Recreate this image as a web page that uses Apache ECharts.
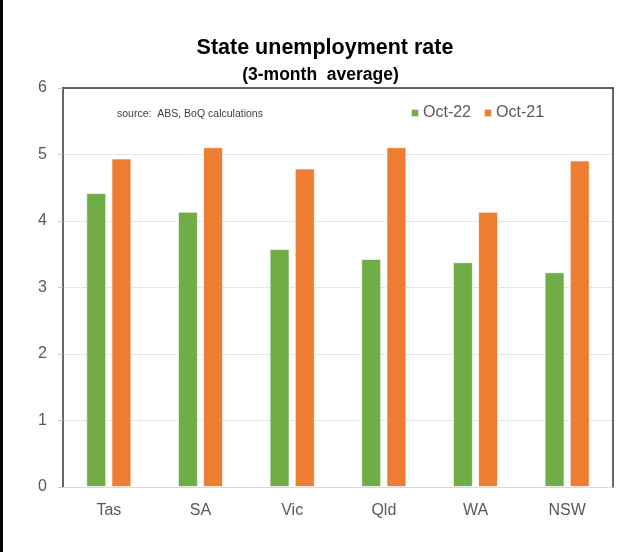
<!DOCTYPE html>
<html>
<head>
<meta charset="utf-8">
<script src="https://cdn.jsdelivr.net/npm/echarts@6/dist/echarts.min.js"></script>
<style>html,body{margin:0;padding:0;background:#fff;}#c{width:640px;height:552px;}</style>
</head>
<body>
<div id="c"></div>
<script>
const categories = ['Tas', 'SA', 'Vic', 'Qld', 'WA', 'NSW'];
const oct22 = [4.42, 4.14, 3.58, 3.43, 3.38, 3.23];
const oct21 = [4.94, 5.11, 4.79, 5.11, 4.14, 4.91];
const seriesNames = ['Oct-22', 'Oct-21'];
const yTicks = { min: 0, max: 6, interval: 1 };

const chart = echarts.init(document.getElementById('c'), null, { renderer: 'canvas' });
const labelFont = 'Liberation Sans, Arial, sans-serif';

chart.setOption({
  animation: false,
  backgroundColor: '#fff',
  graphic: [{
    type: 'rect', left: 0, top: 0, shape: { width: 3, height: 552 }, style: { fill: '#000' }
  }],
  title: [
    {
      text: 'State unemployment rate',
      left: 320, textAlign: 'center', top: 32,
      textStyle: { fontFamily: labelFont, fontWeight: 'bold', fontSize: 21.5, color: '#000' }
    },
    {
      text: '(3-month  average)',
      left: 315.5, textAlign: 'center', top: 61,
      textStyle: { fontFamily: labelFont, fontWeight: 'bold', fontSize: 17.5, color: '#000' }
    },
    {
      text: 'source:  ABS, BoQ calculations',
      left: 112, top: 104,
      textStyle: { fontFamily: labelFont, fontWeight: 'normal', fontSize: 10.5, color: '#404040' }
    }
  ],
  legend: {
    data: seriesNames,
    left: 405, top: 100,
    icon: 'rect', itemWidth: 8, itemHeight: 8, itemGap: 12,
    textStyle: { fontFamily: labelFont, fontSize: 16, color: '#595959', padding: [0, 0, 0, -1] }
  },
  grid: { left: 63, right: 27, top: 88, bottom: 65, containLabel: false },
  xAxis: [
    {
      type: 'category', data: categories,
      axisLine: { lineStyle: { color: '#d0d0d0', width: 1, type: 'dotted' } },
      axisTick: { show: false },
      axisLabel: { fontFamily: labelFont, fontSize: 16, color: '#595959', margin: 16 }
    },
    {
      type: 'category', data: categories, position: 'top',
      axisLine: { onZero: false, lineStyle: { color: '#333', width: 1.5 } },
      axisTick: { show: false }, axisLabel: { show: false }
    }
  ],
  yAxis: [
    {
      type: 'value', min: yTicks.min, max: yTicks.max, interval: yTicks.interval,
      axisLine: { show: true, onZero: false, lineStyle: { color: '#333', width: 1.5 } },
      axisTick: { show: true, length: 5, lineStyle: { color: '#c8c8c8' } },
      axisLabel: { fontFamily: labelFont, fontSize: 16, color: '#595959', margin: 16 },
      splitLine: { lineStyle: { color: '#cccccc', type: 'dotted', width: 1 } }
    },
    {
      type: 'value', min: yTicks.min, max: yTicks.max, interval: yTicks.interval, position: 'right',
      axisLine: { show: true, onZero: false, lineStyle: { color: '#333', width: 1.5 } },
      axisTick: { show: false }, axisLabel: { show: false }, splitLine: { show: false }
    }
  ],
  series: [
    {
      name: seriesNames[0], type: 'bar', data: oct22, barWidth: 20, barGap: '26%',
      itemStyle: { color: '#70AD47', borderColor: 'rgba(255,255,255,0.7)', borderWidth: 1 }
    },
    {
      name: seriesNames[1], type: 'bar', data: oct21, barWidth: 20, barGap: '26%',
      itemStyle: { color: '#ED7D31', borderColor: 'rgba(255,255,255,0.7)', borderWidth: 1 }
    }
  ]
});
</script>
</body>
</html>
